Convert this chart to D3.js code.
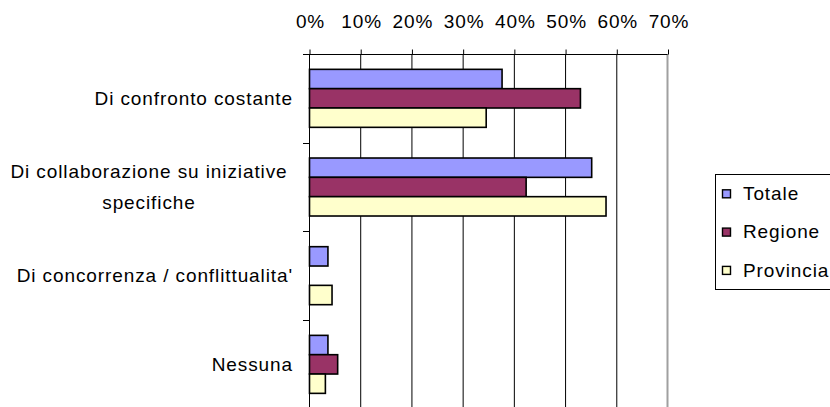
<!DOCTYPE html>
<html>
<head>
<meta charset="utf-8">
<script src="https://cdn.jsdelivr.net/npm/d3@7"></script>
<style>
  html, body { margin: 0; padding: 0; background: #fff; }
  svg { display: block; }
  svg text { font-family: "Liberation Sans", Arial, sans-serif; font-size: 19px; letter-spacing: 0.9px; fill: #000; }
</style>
</head>
<body>
<div id="chart"></div>
<script>
const categories = [
	["Di confronto costante"],
	["Di collaborazione su iniziative", "specifiche"],
	["Di concorrenza / conflittualita'"],
	["Nessuna"],
];
const seriesNames = ["Totale", "Regione", "Provincia"];
const seriesColors = ["#9999ff", "#993366", "#ffffcc"];
const totale = [37.6, 55.1, 3.6, 3.6];
const regione = [52.9, 42.3, 0, 5.5];
const provincia = [34.5, 57.9, 4.4, 3.1];
const xTicks = [0, 10, 20, 30, 40, 50, 60, 70];

const width = 830;
const height = 407;
const plot = { left: 309, right: 667.5, top: 54, bottom: 408.7 };

const svg = d3
	.select("#chart")
	.append("svg")
	.attr("width", width)
	.attr("height", height);

const x = d3.scaleLinear().domain([0, 70]).range([plot.left, plot.right]);

const catIdx = d3.range(categories.length);
const y = d3
	.scaleBand()
	.domain(catIdx)
	.range([plot.top, plot.bottom])
	.paddingInner(0.346)
	.paddingOuter(0.173);
const ySub = d3
	.scaleBand()
	.domain(seriesNames)
	.range([0, y.bandwidth()]);

// vertical gridlines
svg
	.append("g")
	.selectAll("line")
	.data(xTicks.slice(1, -1))
	.join("line")
	.attr("x1", (d) => x(d) + 0.5)
	.attr("x2", (d) => x(d) + 0.5)
	.attr("y1", plot.top)
	.attr("y2", plot.bottom)
	.attr("stroke", "#000");

// plot area border (right side grey)
svg
	.append("line")
	.attr("x1", plot.right)
	.attr("x2", plot.right)
	.attr("y1", plot.top)
	.attr("y2", plot.bottom)
	.attr("stroke", "#a0a0a0")
	.attr("stroke-width", 2);

// top axis
const xAxis = d3
	.axisTop(x)
	.tickValues(xTicks)
	.tickSize(5)
	.tickPadding(22)
	.tickFormat((d) => d + "%");
const xg = svg
	.append("g")
	.attr("transform", `translate(0.5,${plot.top + 0.5})`)
	.call(xAxis)
	.attr("font-family", null)
	.attr("font-size", null);
xg.select(".domain").attr("stroke", "#000").attr("d", `M${plot.left - 6.5},0H${plot.right - 0.5}`);
xg.selectAll(".tick line").attr("stroke", "#000");
xg.selectAll(".tick text").attr("fill", "#000").attr("dx", "0.5px");

// left axis line + category boundary ticks
const step = y.step();
const boundaries = d3.range(categories.length + 1).map((i) => plot.top + i * step);
const yAx = svg.append("g");
yAx
	.append("line")
	.attr("x1", plot.left + 0.5)
	.attr("x2", plot.left + 0.5)
	.attr("y1", plot.top)
	.attr("y2", plot.bottom)
	.attr("stroke", "#000");
yAx
	.selectAll("line.tk")
	.data(boundaries)
	.join("line")
	.attr("class", "tk")
	.attr("x1", plot.left - 6)
	.attr("x2", plot.left)
	.attr("y1", (d) => Math.round(d) + 0.5)
	.attr("y2", (d) => Math.round(d) + 0.5)
	.attr("stroke", "#000");

// category labels
const lineGap = 31;
const labelX = (i) => (categories[i].length > 1 ? 149 : 293);
const labels = svg
	.append("g")
	.selectAll("text")
	.data(catIdx)
	.join("text")
	.attr("text-anchor", (i) => (categories[i].length > 1 ? "middle" : "end"))
	.attr("y", (i) => y(i) + y.bandwidth() / 2 - ((categories[i].length - 1) * lineGap) / 2);
labels
	.selectAll("tspan")
	.data((i) => categories[i].map((t, k) => ({ t, k, i })))
	.join("tspan")
	.attr("x", (d) => labelX(d.i))
	.attr("dy", (d) => (d.k === 0 ? "0.35em" : lineGap))
	.text((d) => d.t);

// bars
const series = [totale, regione, provincia];
const barData = [];
series.forEach((vals, s) => {
	vals.forEach((v, i) => {
		barData.push({ s, i, v });
	});
});
svg
	.append("g")
	.selectAll("rect")
	.data(barData.filter((d) => d.v > 0))
	.join("rect")
	.attr("x", x(0) + 0.5)
	.attr("y", (d) => y(d.i) + ySub(seriesNames[d.s]))
	.attr("width", (d) => x(d.v) - x(0))
	.attr("height", ySub.bandwidth())
	.attr("fill", (d) => seriesColors[d.s])
	.attr("stroke", "#000")
	.attr("stroke-width", 1.6);

// legend
const legend = svg.append("g").attr("transform", "translate(715,174)");
legend
	.append("rect")
	.attr("x", 0.5)
	.attr("y", 0.5)
	.attr("width", 140)
	.attr("height", 115)
	.attr("fill", "#fff")
	.attr("stroke", "#000");
const item = legend
	.selectAll("g.item")
	.data(seriesNames)
	.join("g")
	.attr("class", "item")
	.attr("transform", (d, i) => `translate(0,${19.3 + i * 38.3})`);
item
	.append("rect")
	.attr("x", 7.5)
	.attr("y", -3.5)
	.attr("width", 8)
	.attr("height", 8)
	.attr("fill", (d, i) => seriesColors[i])
	.attr("stroke", "#000")
	.attr("stroke-width", 1.4);
item
	.append("text")
	.attr("x", 28)
	.attr("dy", "0.35em")
	.text((d) => d);
</script>
</body>
</html>
